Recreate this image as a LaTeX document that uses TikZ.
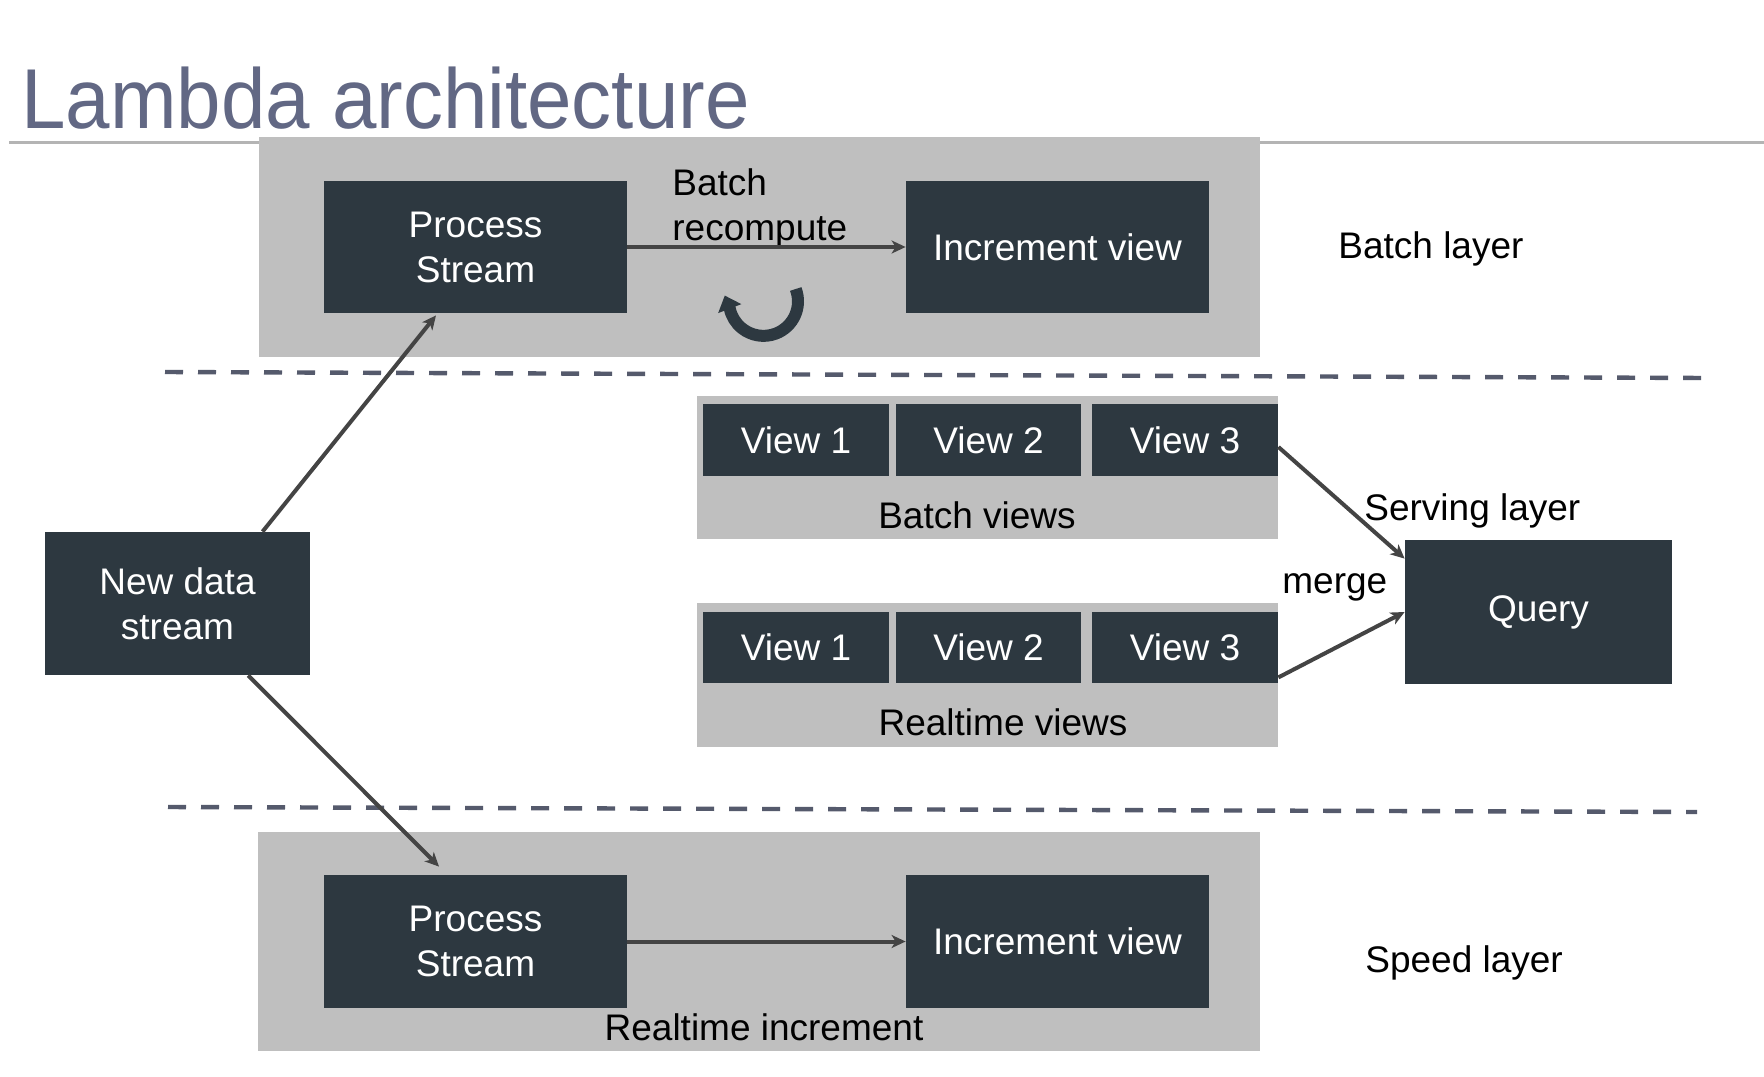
\documentclass[tikz,border=0pt]{standalone}
\usepackage{fontspec}
\setmainfont{Liberation Sans}
\newfontfamily\titlefont[FakeStretch=0.94]{Liberation Sans}
\usetikzlibrary{arrows.meta,calc}
\definecolor{dark}{RGB}{45,56,64}
\definecolor{panel}{RGB}{191,191,191}
\definecolor{titlec}{RGB}{98,104,132}
\definecolor{dashc}{RGB}{85,90,108}
\definecolor{arrowc}{RGB}{68,68,68}
\definecolor{rulec}{RGB}{180,180,180}
\begin{document}
\begin{tikzpicture}[x=0.5pt,y=-0.5pt,
  box/.style={fill=dark,draw=none,text=white,font=\fontsize{18.5}{22.5}\selectfont,align=center,inner sep=0pt},
  panelbox/.style={fill=panel,draw=none,inner sep=0pt},
  lbl/.style={font=\fontsize{18.5}{22.5}\selectfont,text=black,inner sep=0pt},
  conn/.style={draw=arrowc,line width=2pt,-{Stealth[length=7pt,width=6.5pt,inset=2pt]}},
  sep/.style={draw=dashc,line width=2.2pt,dash pattern=on 9pt off 7.5pt},
]
\useasboundingbox[fill=white] (0,0) rectangle (1764,1076);

% title and rule
\node[anchor=base west,inner sep=0pt,text=titlec,font=\titlefont\fontsize{42.5}{50}\selectfont] (title) at (21,128) {Lambda architecture};
\coordinate (ruleL) at (9,142);
\coordinate (ruleR) at (1764,142);
\draw[rulec,line width=1.5pt] (ruleL) -- (ruleR);

% dashed separators
\coordinate (d1a) at (165,372);
\coordinate (d1b) at (1708,378);
\coordinate (d2a) at (168,807);
\coordinate (d2b) at (1697,812);
\draw[sep] (d1a) -- (d1b);
\draw[sep] (d2a) -- (d2b);

% batch layer
\node[panelbox,minimum width=500.5pt,minimum height=110pt] (bpanel) at (759.5,247) {};
\node[box,minimum width=151.5pt,minimum height=66pt] (ps1) at (475.5,247) {Process\\Stream};
\node[box,minimum width=151.5pt,minimum height=66pt] (iv1) at (1057.5,247) {Increment view};
\node[lbl,anchor=base west,align=left] (brc) at (672,240) {Batch\\recompute};
\draw[conn] (ps1.east) -- (iv1.west);
\coordinate (cyc) at (795.7,289);
\draw[dark,line width=6pt,-{Triangle[width=12pt,length=7pt]}] (cyc) arc[start angle=-21,end angle=168,radius=34.5] -- ++(-5,-13);
\node[lbl,anchor=base west] (blayer) at (1338,258) {Batch layer};

% speed layer
\node[panelbox,minimum width=501pt,minimum height=109.5pt] (spanel) at (759,941.5) {};
\node[box,minimum width=151.5pt,minimum height=66.5pt] (ps2) at (475.5,941.5) {Process\\Stream};
\node[box,minimum width=151.5pt,minimum height=66.5pt] (iv2) at (1057.5,941.5) {Increment view};
\draw[conn] (ps2.east) -- (iv2.west);
\node[lbl,anchor=base] (rti) at (764,1040) {Realtime increment};
\node[lbl,anchor=base west] (slayer) at (1365,972) {Speed layer};

% serving layer
\node[panelbox,minimum width=290.5pt,minimum height=71.5pt] (bvpanel) at (987.5,467.5) {};
\node[box,minimum width=93pt,minimum height=36pt] (bv1) at (796,440) {View 1};
\node[box,minimum width=92.5pt,minimum height=36pt] (bv2) at (988.5,440) {View 2};
\node[box,minimum width=93pt,minimum height=36pt] (bv3) at (1185,440) {View 3};
\node[lbl,anchor=base] (bvl) at (977,528) {Batch views};

\node[panelbox,minimum width=290.5pt,minimum height=72pt] (rvpanel) at (987.5,675) {};
\node[box,minimum width=93pt,minimum height=35.5pt] (rv1) at (796,647.5) {View 1};
\node[box,minimum width=92.5pt,minimum height=35.5pt] (rv2) at (988.5,647.5) {View 2};
\node[box,minimum width=93pt,minimum height=35.5pt] (rv3) at (1185,647.5) {View 3};
\node[lbl,anchor=base] (rvl) at (1003,735) {Realtime views};

\node[box,minimum width=133.5pt,minimum height=72pt] (q) at (1538.5,612) {Query};
\node[lbl,anchor=base west] (serv) at (1364,520) {Serving layer};
\node[lbl,anchor=base west] (merge) at (1282,593) {merge};
\draw[conn] ($(bv3.east)+(0,7)$) -- ($(q.north west)+(0,19)$);
\draw[conn] ($(rv3.south east)+(0,-6)$) -- (q.west);

% new data stream
\node[box,minimum width=132.5pt,minimum height=71.5pt] (nds) at (177.5,603.5) {New data\\stream};
\draw[conn] ($(nds.north west)!0.82!(nds.north east)$) -- ($(ps1.south west)!0.37!(ps1.south east)+(0,2)$);
\draw[conn] ($(nds.south west)!0.766!(nds.south east)$) -- ($(ps2.north west)!0.38!(ps2.north east)+(0,-8)$);
\end{tikzpicture}
\end{document}
